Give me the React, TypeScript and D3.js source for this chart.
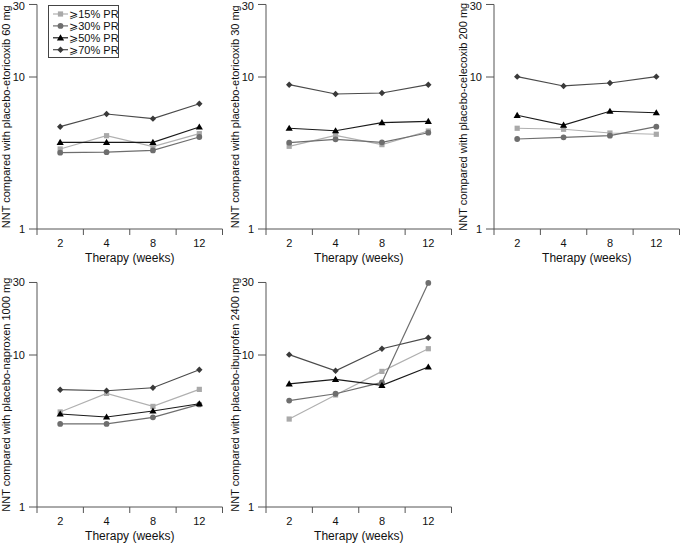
import React from "react";
import * as d3 from "d3";

const weeks = ["2", "4", "8", "12"];
const seriesLabels = ["\u2A7E15% PR", "\u2A7E30% PR", "\u2A7E50% PR", "\u2A7E70% PR"];
const yTicks = [1, 10, 30];

const panelTitles = [
  "NNT compared with placebo-etoricoxib 60 mg",
  "NNT compared with placebo-etoricoxib 30 mg",
  "NNT compared with placebo-celecoxib 200 mg",
  "NNT compared with placebo-naproxen 1000 mg",
  "NNT compared with placebo-ibuprofen 2400 mg",
];

// values per panel: [15%, 30%, 50%, 70%]
const etoricoxib60 = [
  [3.36, 4.11, 3.48, 4.24],
  [3.18, 3.2, 3.29, 4.03],
  [3.72, 3.72, 3.72, 4.69],
  [4.71, 5.71, 5.32, 6.67],
];
const etoricoxib30 = [
  [3.5, 4.13, 3.59, 4.41],
  [3.7, 3.89, 3.72, 4.3],
  [4.6, 4.43, 5.01, 5.11],
  [8.9, 7.73, 7.85, 8.9],
];
const celecoxib200 = [
  [4.6, 4.53, 4.28, 4.2],
  [3.91, 4.01, 4.11, 4.71],
  [5.6, 4.83, 5.95, 5.82],
  [10.05, 8.73, 9.13, 10.05],
];
const naproxen1000 = [
  [4.22, 5.59, 4.59, 5.94],
  [3.52, 3.52, 3.89, 4.73],
  [4.09, 3.91, 4.28, 4.78],
  [5.91, 5.82, 6.09, 8.0],
];
const ibuprofen2400 = [
  [3.79, 5.46, 7.8, 11.0],
  [5.01, 5.56, 6.6, 29.8],
  [6.45, 6.91, 6.31, 8.34],
  [10.05, 7.88, 11.0, 13.0],
];
const panelData = [etoricoxib60, etoricoxib30, celecoxib200, naproxen1000, ibuprofen2400];

const seriesStyle = [
  { color: "#a9a9a9", line: "#b0b0b0", shape: "square" },
  { color: "#6e6e6e", line: "#6e6e6e", shape: "circle" },
  { color: "#000000", line: "#1a1a1a", shape: "triangle" },
  { color: "#3a3a3a", line: "#4a4a4a", shape: "diamond" },
];

const panelPos = [
  { x: 37, y: 229 },
  { x: 266, y: 229 },
  { x: 494, y: 229 },
  { x: 37, y: 507 },
  { x: 266, y: 507 },
];
const axisLen = 185.5;
const decade = 152;

const FONT = "'Liberation Sans', Arial, 'DejaVu Sans', sans-serif";

function Marker({ shape, x, y, color }: { shape: string; x: number; y: number; color: string }) {
  if (shape === "square") return <rect x={x - 2.6} y={y - 2.6} width={5.2} height={5.2} fill={color} />;
  if (shape === "circle") return <circle cx={x} cy={y} r={2.9} fill={color} />;
  if (shape === "triangle")
    return <path d={`M${x},${y - 3.6}L${x + 3.6},${y + 2.6}L${x - 3.6},${y + 2.6}Z`} fill={color} />;
  return <path d={`M${x},${y - 3.2}L${x + 3.2},${y}L${x},${y + 3.2}L${x - 3.2},${y}Z`} fill={color} />;
}

function Panel({ idx }: { idx: number }) {
  const { x: x0, y: y0 } = panelPos[idx];
  const x = d3.scaleBand<string>().domain(weeks).range([x0, x0 + axisLen]);
  const top = y0 - decade * Math.log10(30);
  const y = d3.scaleLog().domain([1, 30]).range([y0, top]);
  const line = d3
    .line<number>()
    .x((_, i) => (x(weeks[i]) as number) + x.bandwidth() / 2)
    .y((v) => y(v));
  const boundaries = weeks.map((w) => x(w) as number).concat([x0 + axisLen]);
  const midY = (y0 + top) / 2;
  return (
    <g>
      <line x1={x0} x2={x0} y1={top} y2={y0} stroke="#555" strokeWidth={1} />
      {yTicks.map((t) => (
        <g key={t}>
          <line x1={x0 - 8} x2={x0} y1={y(t)} y2={y(t)} stroke="#555" />
          <text
            x={x0 - 12}
            y={Math.max(y(t), 6.5)}
            dy="0.33em"
            textAnchor="end"
            fontSize={11}
            fontFamily={FONT}
            fill="#111"
          >
            {t}
          </text>
        </g>
      ))}
      <line x1={x0} x2={x0 + axisLen} y1={y0} y2={y0} stroke="#555" />
      {boundaries.map((b, i) => (
        <line key={i} x1={b} x2={b} y1={y0} y2={y0 + 6} stroke="#555" />
      ))}
      {weeks.map((w) => (
        <text
          key={w}
          x={(x(w) as number) + x.bandwidth() / 2}
          y={y0 + 14.5}
          dy="0.35em"
          textAnchor="middle"
          fontSize={11}
          fontFamily={FONT}
          fill="#111"
        >
          {w}
        </text>
      ))}
      <text x={x0 + axisLen / 2} y={y0 + 33} textAnchor="middle" fontSize={12} fontFamily={FONT} fill="#111">
        Therapy (weeks)
      </text>
      <text
        transform={`translate(${x0 - 31},${midY}) rotate(-90)`}
        textAnchor="middle"
        dy="0.35em"
        fontSize={11}
        fontFamily={FONT}
        fill="#111"
      >
        {panelTitles[idx]}
      </text>
      {panelData[idx].map((vals, s) => (
        <g key={s}>
          <path d={line(vals) || ""} fill="none" stroke={seriesStyle[s].line} strokeWidth={1.2} />
          {vals.map((v, i) => (
            <Marker
              key={i}
              shape={seriesStyle[s].shape}
              x={(x(weeks[i]) as number) + x.bandwidth() / 2}
              y={y(v)}
              color={seriesStyle[s].color}
            />
          ))}
        </g>
      ))}
    </g>
  );
}

function Legend() {
  const lx = 48;
  const ly = 5;
  return (
    <g>
      <rect x={lx + 0.5} y={ly + 0.5} width={70} height={52} fill="#fff" stroke="#444" strokeWidth={1} />
      {seriesLabels.map((lab, i) => {
        const yy = ly + 9 + i * 11.9;
        const st = seriesStyle[i];
        return (
          <g key={i}>
            <line x1={lx + 5} x2={lx + 20} y1={yy} y2={yy} stroke={st.line} strokeWidth={1.2} />
            <Marker shape={st.shape} x={lx + 12.5} y={yy} color={st.color} />
            <text x={lx + 21} y={yy} dy="0.36em" fontSize={11} fontFamily={FONT} fill="#111">
              {lab}
            </text>
          </g>
        );
      })}
    </g>
  );
}

export default function App() {
  return (
    <svg width={684} height={546} style={{ position: "absolute", left: 0, top: 0, background: "#fff" }}>
      {panelPos.map((_, i) => (
        <Panel key={i} idx={i} />
      ))}
      <Legend />
    </svg>
  );
}
